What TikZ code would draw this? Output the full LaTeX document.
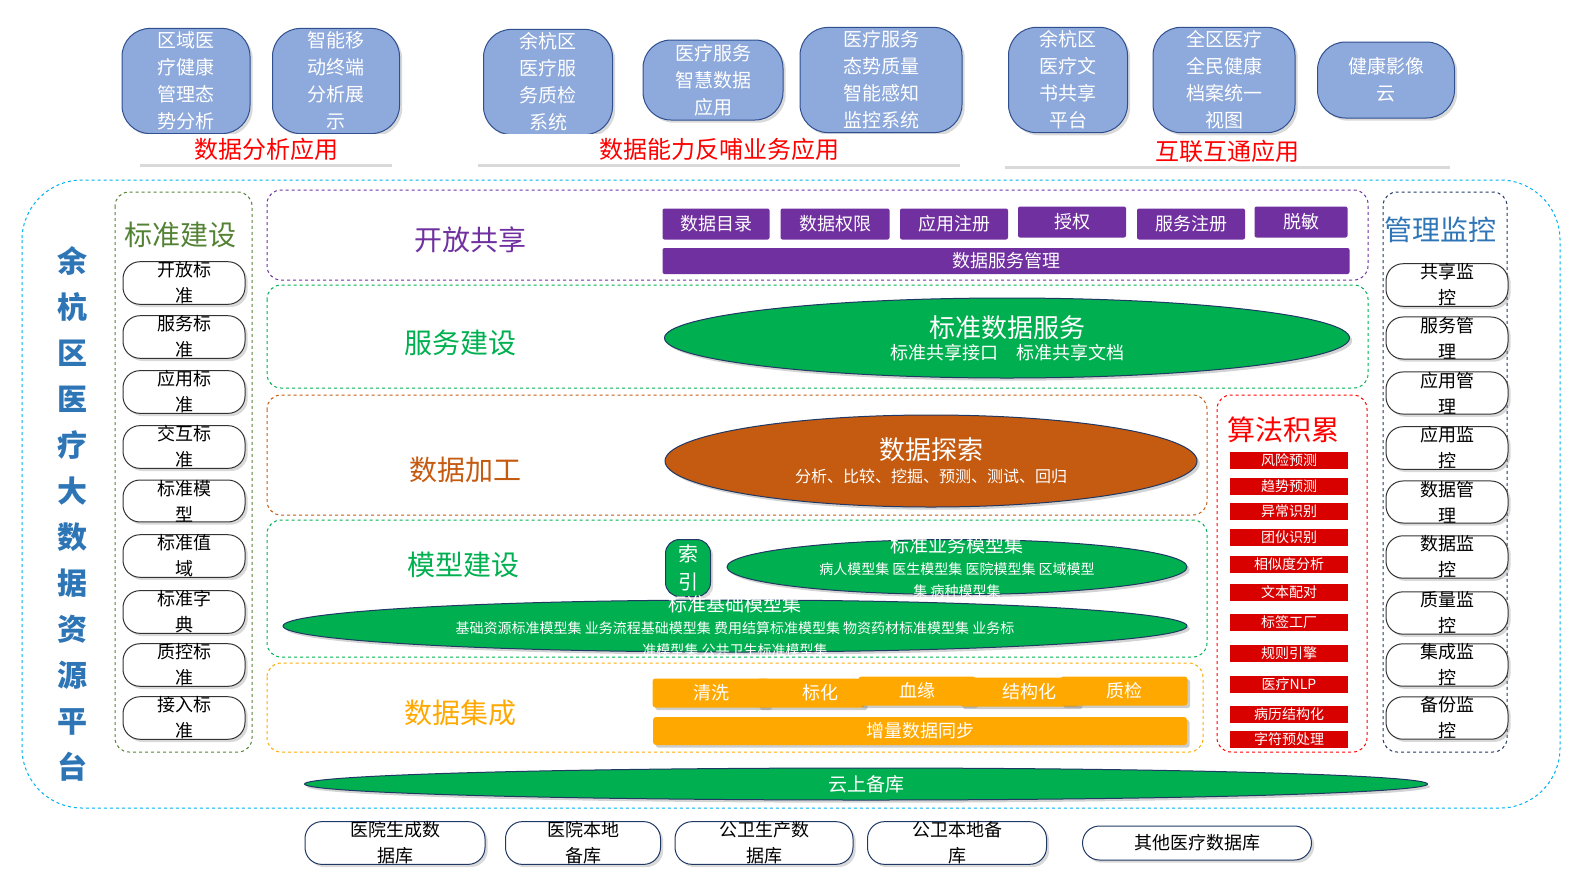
\documentclass[tikz,border=0pt]{standalone}
\usepackage{fontspec}
\setmainfont{Noto Sans CJK SC}
\usetikzlibrary{shapes.geometric,shadows}
\definecolor{bub}{HTML}{8EA9DB}
\definecolor{bubd}{HTML}{2F4F8F}
\definecolor{pur}{HTML}{7030A0}
\definecolor{grn}{HTML}{00B050}
\definecolor{org}{HTML}{C55A11}
\definecolor{yel}{HTML}{FFA800}
\definecolor{olv}{HTML}{548235}
\definecolor{blu}{HTML}{2E75B6}
\definecolor{cyn}{HTML}{00B0F0}
\definecolor{navy}{HTML}{203864}
\begin{document}
\begin{tikzpicture}[x=1pt,y=-1pt,
 bubble/.style={draw=bubd,fill=bub,rounded corners=28pt,line width=1pt,text=white,font=\fontsize{19}{27}\selectfont,align=center,drop shadow={opacity=0.3}},
 lab/.style={fill=white,text=red,font=\fontsize{24}{28}\selectfont,drop shadow={opacity=0.3,shadow xshift=0pt,shadow yshift=-3pt}},
 area/.style={draw,dashed,rounded corners=14pt,line width=1pt},
 pill/.style={draw=black!80,fill=white,rounded corners=17pt,line width=1pt,font=\fontsize{18}{26}\selectfont,align=center,minimum width=122pt,minimum height=38pt,inner sep=0pt,drop shadow={opacity=0.3}},
 pbtn/.style={fill=pur,text=white,rounded corners=2pt,font=\fontsize{18}{20}\selectfont,minimum height=31pt,inner sep=0pt},
 ybtn/.style={fill=yel,text=white,rounded corners=3pt,font=\fontsize{18}{20}\selectfont,minimum height=29pt,inner sep=0pt,drop shadow={opacity=0.4}},
 rbar/.style={fill=red!85!black,text=white,font=\fontsize{14}{16}\selectfont,minimum width=118pt,minimum height=17pt,inner sep=0pt},
 ell/.style={ellipse,draw=navy,line width=1pt,text=white,align=center,inner sep=0pt,drop shadow={opacity=0.35}},
 bpill/.style={draw=navy,fill=white,rounded corners=17pt,line width=1pt,font=\fontsize{18}{26}\selectfont,align=center,minimum height=34pt,inner sep=0pt,drop shadow={opacity=0.3}},
 sect/.style={font=\fontsize{28}{30}\selectfont}]
% top bubbles
\node[bubble,minimum width=128pt,minimum height=87pt] (b1) at (186,81) {区域医\\疗健康\\管理态\\势分析};
\node[bubble,minimum width=127pt,minimum height=87pt] (b2) at (336,81) {智能移\\动终端\\分析展\\示};
\node[bubble,minimum width=129pt,minimum height=85pt] (b3) at (548,82) {余杭区\\医疗服\\务质检\\系统};
\node[bubble,minimum width=140pt,minimum height=80pt] (b4) at (713,80) {医疗服务\\智慧数据\\应用};
\node[bubble,minimum width=162pt,minimum height=80pt] (b5) at (881,80) {医疗服务\\态势质量\\智能感知\\监控系统};
\node[bubble,minimum width=119pt,minimum height=80pt] (b6) at (1068,80) {余杭区\\医疗文\\书共享\\平台};
\node[bubble,minimum width=142pt,minimum height=80pt] (b7) at (1224,80) {全区医疗\\全民健康\\档案统一\\视图};
\node[bubble,minimum width=137pt,minimum height=76pt] (b8) at (1386,80) {健康影像\\云};
\node[lab,minimum width=252pt,minimum height=30pt] (l1) at (266,149) {数据分析应用};
\node[lab,minimum width=482pt,minimum height=30pt] (l2) at (719,149) {数据能力反哺业务应用};
\node[lab,minimum width=445pt,minimum height=30pt] (l3) at (1227,151) {互联互通应用};
% outer
\draw[area,draw=cyn,rounded corners=60pt] (22,180) rectangle (1560,808);
\node[text=blu,font=\fontsize{30}{46}\selectfont\bfseries,align=center] (title) at (72,514) {余\\杭\\区\\医\\疗\\大\\数\\据\\资\\源\\平\\台};
% left column
\draw[area,draw=olv] (115,192) rectangle (252,752);
\node[text=olv,sect] (lt) at (180,235) {标准建设};
\foreach \t/\y [count=\i] in {开放标\\准/283,服务标\\准/337,应用标\\准/392,交互标\\准/447,标准模\\型/501,标准值\\域/556,标准字\\典/612,质控标\\准/665,接入标\\准/718}
 \node[pill] (lp\i) at (184,\y) {\t};
% right column
\draw[area,draw=navy] (1383,192) rectangle (1507,752);
\node[text=blu,sect] (rt) at (1440,230) {管理监控};
\foreach \t/\y [count=\i] in {共享监\\控/285,服务管\\理/338,应用管\\理/393,应用监\\控/448,数据管\\理/502,数据监\\控/557,质量监\\控/613,集成监\\控/665,备份监\\控/718}
 \node[pill] (rp\i) at (1447,\y) {\t};
% open share
\draw[area,draw=pur] (267,190) rectangle (1368,280);
\node[text=pur,sect] (s1) at (470,240) {开放共享};
\node[pbtn,minimum width=107pt] (p1) at (716,224) {数据目录};
\node[pbtn,minimum width=109pt] (p2) at (835,224) {数据权限};
\node[pbtn,minimum width=108pt] (p3) at (954,224) {应用注册};
\node[pbtn,minimum width=108pt] (p4) at (1072,222) {授权};
\node[pbtn,minimum width=108pt] (p5) at (1191,224) {服务注册};
\node[pbtn,minimum width=93pt] (p6) at (1301,222) {脱敏};
\node[pbtn,minimum width=687pt,minimum height=26pt] (pm) at (1006,261) {数据服务管理};
% service
\draw[area,draw=grn] (267,285) rectangle (1368,388);
\node[text=grn,sect] (s2) at (460,343) {服务建设};
\node[ell,fill=grn,minimum width=685pt,minimum height=80pt] (e1) at (1007,338) {\fontsize{26}{30}\selectfont 标准数据服务\\[4pt]\fontsize{18}{22}\selectfont 标准共享接口\quad 标准共享文档};
% processing
\draw[area,draw=org] (267,395) rectangle (1207,515);
\node[text=org,sect] (s3) at (465,470) {数据加工};
\node[ell,fill=org,minimum width=532pt,minimum height=92pt] (e2) at (931,461) {\fontsize{26}{30}\selectfont 数据探索\\[6pt]\fontsize{16}{22}\selectfont 分析、比较、挖掘、预测、测试、回归};
% model
\draw[area,draw=grn] (267,520) rectangle (1207,657);
\node[text=grn,sect] (s4) at (463,565) {模型建设};
\node[draw=navy,fill=grn,text=white,rounded corners=14pt,line width=1pt,minimum width=45pt,minimum height=57pt,align=center,inner sep=0pt,font=\fontsize{20}{28}\selectfont,drop shadow={opacity=0.3}] (idx) at (688,568) {索\\引};
\node[ell,fill=grn,minimum width=460pt,minimum height=55pt] (e3) at (957,567) {};
\node[text=white,align=center,font=\fontsize{14}{22}\selectfont] (e3t) at (957,567) {{\fontsize{19}{22}\selectfont 标准业务模型集}\\病人模型集 医生模型集 医院模型集 区域模型\\集 病种模型集};
\node[ell,fill=grn,minimum width=904pt,minimum height=52pt] (e4) at (735,626) {};
\node[text=white,align=center,font=\fontsize{14}{22}\selectfont] (e4t) at (735,626) {{\fontsize{19}{22}\selectfont 标准基础模型集}\\基础资源标准模型集 业务流程基础模型集 费用结算标准模型集 物资药材标准模型集 业务标\\准模型集 公共卫生标准模型集};
% integration
\draw[area,draw=yel] (267,663) rectangle (1203,752);
\node[text=yel,sect] (s5) at (460,713) {数据集成};
\node[ybtn,minimum width=117pt] (y1) at (711,693) {清洗};
\node[ybtn,minimum width=108pt] (y2) at (811,693) {\quad 标化};
\node[ybtn,minimum width=117pt] (y3) at (917,691) {血缘};
\node[ybtn,minimum width=120pt] (y4) at (1020,692) {\quad 结构化};
\node[ybtn,minimum width=127pt] (y5) at (1124,691) {质检};
\node[ybtn,minimum width=534pt,minimum height=28pt] (ym) at (920,731) {增量数据同步};
% algorithm
\draw[area,draw=red] (1217,395) rectangle (1367,752);
\node[text=red,sect] (s6) at (1283,430) {算法积累};
\foreach \t/\y [count=\i] in {风险预测/460,趋势预测/486,异常识别/511,团伙识别/537,相似度分析/564,文本配对/592,标签工厂/622,规则引擎/653,医疗NLP/684,病历结构化/714,字符预处理/739}
 \node[rbar] (r\i) at (1289,\y) {\t};
% cloud
\node[ell,fill=grn,minimum width=1123pt,minimum height=32pt,font=\fontsize{19}{22}\selectfont] (cloud) at (866,784) {云上备库};
% bottom
\node[bpill,minimum width=180pt] (d1) at (395,843) {医院生成数\\据库};
\node[bpill,minimum width=155pt] (d2) at (583,843) {医院本地\\备库};
\node[bpill,minimum width=178pt] (d3) at (764,843) {公卫生产数\\据库};
\node[bpill,minimum width=179pt] (d4) at (957,843) {公卫本地备\\库};
\node[bpill,minimum width=229pt] (d5) at (1197,843) {其他医疗数据库};
\pgfresetboundingbox
\useasboundingbox (0,0) rectangle (1587,892);
\end{tikzpicture}
\end{document}
